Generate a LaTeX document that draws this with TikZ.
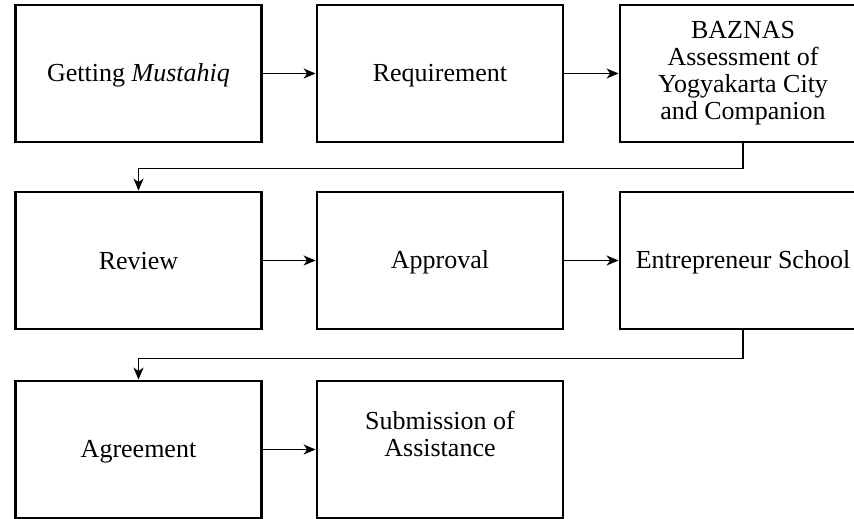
\documentclass[tikz,border=0pt]{standalone}
\usepackage{fontspec}
\setmainfont{Liberation Serif}
\usetikzlibrary{arrows.meta}
\newcommand{\boxstrut}{\rule[-5pt]{0pt}{27pt}}
\begin{document}
\begin{tikzpicture}[x=1pt,y=-1pt,
  stepbox/.style={draw=black,line width=2.8pt,rectangle,minimum width=246pt,minimum height=137pt,inner sep=0pt,align=center,font=\fontsize{26}{27}\selectfont,
    execute at begin node=\boxstrut, execute at end node=\boxstrut},
  link/.style={line width=1.4pt,-{Stealth[length=12pt,width=10pt,inset=3.5pt]}}]
\useasboundingbox (0,0) rectangle (854,519);
\clip (0,0) rectangle (854,519);
\fill[white] (0,0) rectangle (854,519);
\node[stepbox] (a) at (138.5,73.5) {Getting \textit{Mustahiq}};
\node[stepbox] (b) at (440,73.5) {Requirement};
\node[stepbox] (c) at (743,73.5) {BAZNAS\\Assessment of\\Yogyakarta City\\and Companion};
\node[stepbox] (d) at (138.5,260.5) {Review};
\node[stepbox] (e) at (440,260.5) {Approval};
\node[stepbox] (f) at (743,260.5) {Entrepreneur School};
\node[stepbox] (g) at (138.5,449.5) {Agreement};
\node[stepbox] (h) at (440,449.5) {Submission of\\Assistance\\};
\draw[link] (a) -- (b);
\draw[link] (b) -- (c);
\draw[link] (c.south) -- ++(0,25) -| (d.north);
\draw[link] (d) -- (e);
\draw[link] (e) -- (f);
\draw[link] (f.south) -- ++(0,28) -| (g.north);
\draw[link] (g) -- (h);
\end{tikzpicture}
\end{document}
